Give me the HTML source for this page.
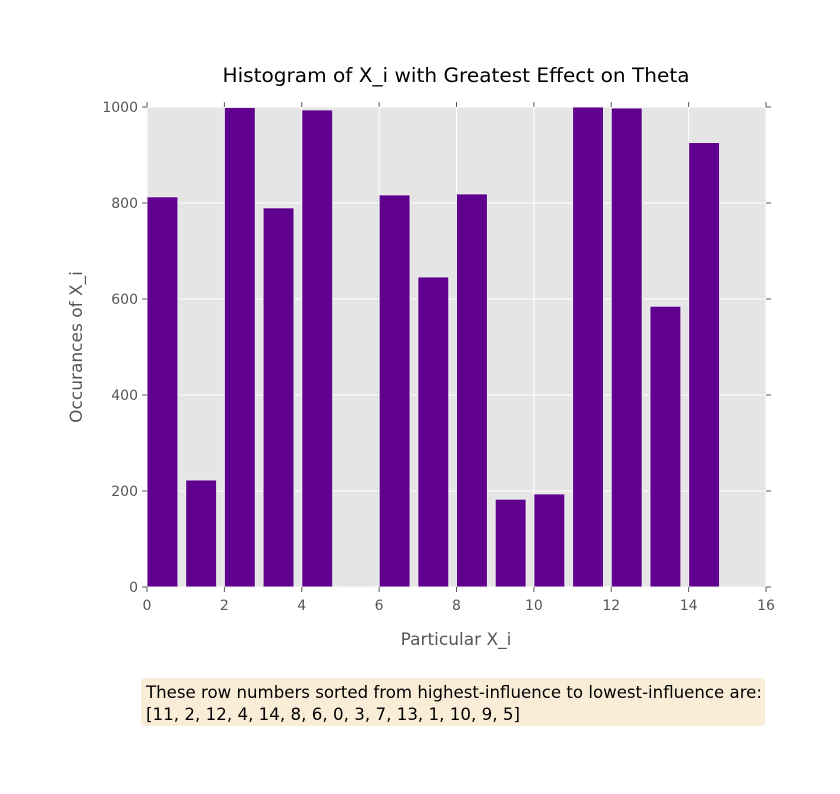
<!DOCTYPE html>
<html><head><meta charset="utf-8"><style>
body{margin:0;background:#fff;}
svg text{font-family:"DejaVu Sans","Liberation Sans",sans-serif;}
</style></head><body>
<svg id="chart" width="840" height="789">
<rect width="840" height="789" fill="#fff"/>
<text x="456" y="82" font-size="19.5" text-anchor="middle" fill="#000" textLength="467" lengthAdjust="spacingAndGlyphs">Histogram of X_i with Greatest Effect on Theta</text>
<rect x="147" y="107" width="619" height="480" fill="#e5e5e5"/>
<g id="grid"></g><g id="bars"></g><g id="axes"></g>
<text x="456" y="645" font-size="17" text-anchor="middle" fill="#555">Particular X_i</text>
<text transform="translate(82,347) rotate(-90)" font-size="17" text-anchor="middle" fill="#555">Occurances of X_i</text>
<rect x="141" y="678" width="624" height="48" rx="4" fill="#f9edd8"/>
<text x="146" y="698" font-size="16.5" fill="#000" textLength="616" lengthAdjust="spacingAndGlyphs">These row numbers sorted from highest-influence to lowest-influence are:</text>
<text x="146" y="720" font-size="16.5" fill="#000" textLength="374" lengthAdjust="spacingAndGlyphs">[11, 2, 12, 4, 14, 8, 6, 0, 3, 7, 13, 1, 10, 9, 5]</text>
</svg>
<script>
const categories=[0,1,2,3,4,5,6,7,8,9,10,11,12,13,14];
const counts=[813,223,999,790,994,1,817,646,819,183,194,1000,998,585,926];
const xTicks=[0,2,4,6,8,10,12,14,16];
const yTicks=[0,200,400,600,800,1000];
const NS="http://www.w3.org/2000/svg";
const X0=147,X1=766,Y0=587,Y1=107;
const xs=v=>X0+(v/16)*(X1-X0);
const ys=v=>Y0-(v/1000)*(Y0-Y1);
function mk(tag,attrs,parent){const e=document.createElementNS(NS,tag);for(const k in attrs)e.setAttribute(k,attrs[k]);document.getElementById(parent).appendChild(e);return e;}
yTicks.forEach(t=>{
 const g=mk('line',{x1:X0,x2:X1,y1:ys(t),y2:ys(t),stroke:'#fff','stroke-width':1},'grid');
 
 
 mk('line',{x1:X0-5,x2:X0,y1:ys(t),y2:ys(t),stroke:'#555'},'axes');
 mk('line',{x1:X1,x2:X1+5,y1:ys(t),y2:ys(t),stroke:'#555'},'axes');
 const l=mk('text',{x:X0-9,y:ys(t)+5,'font-size':14,'text-anchor':'end',fill:'#555'},'axes');
 l.textContent=t;
 
 
});
xTicks.forEach(t=>{
 const g=mk('line',{x1:xs(t),x2:xs(t),y1:Y1,y2:Y0,stroke:'#fff','stroke-width':1},'grid');
 
 
 mk('line',{x1:xs(t),x2:xs(t),y1:Y0,y2:Y0+5,stroke:'#555'},'axes');
 mk('line',{x1:xs(t),x2:xs(t),y1:Y1-5,y2:Y1,stroke:'#555'},'axes');
 const l=mk('text',{x:xs(t),y:Y0+23,'font-size':14,'text-anchor':'middle',fill:'#555'},'axes');
 l.textContent=t;
 
 
});
categories.forEach((c,i)=>{
 const v=counts[i];
 const b=mk('rect',{x:xs(c),y:ys(v),width:xs(c+0.8)-xs(c),height:Y0-ys(v),fill:'#5f008f',stroke:'#eee','stroke-width':1},'bars');
 
 
});
</script>
</body></html>
